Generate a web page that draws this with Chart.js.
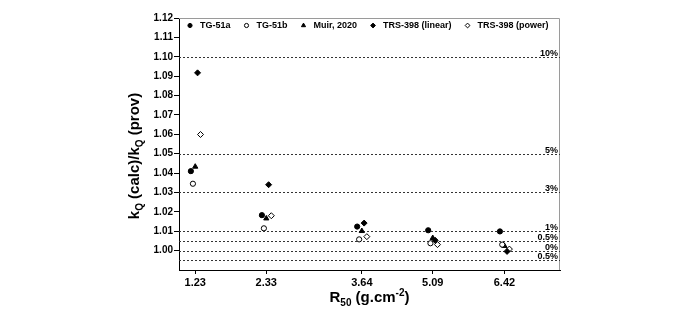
<!DOCTYPE html>
<html>
<head>
<meta charset="utf-8">
<script src="https://cdn.jsdelivr.net/npm/chart.js@4.4.0/dist/chart.umd.min.js"></script>
<style>
  html, body { margin: 0; padding: 0; background: #fff; }
</style>
</head>
<body>
<canvas id="grafico" width="700" height="317"></canvas>
<script>
// valores de R50 (rótulos do eixo x)
const r50 = [1.23, 2.33, 3.64, 5.09, 6.42];

// posições x (cada série deslocada um pouco do seu R50)
const tg51aX = [1.160, 2.262, 3.576, 4.997, 6.336];
const tg51bX = [1.193, 2.293, 3.603, 5.043, 6.379];
const muirX = [1.230, 2.330, 3.640, 5.090, 6.420];
const trsLinX = [1.266, 2.362, 3.687, 5.135, 6.467];
const trsPowX = [1.312, 2.399, 3.742, 5.178, 6.510];

// razão kQ(calc)/kQ(prov)
const tg51a = [1.0410, 1.0183, 1.0124, 1.0105, 1.0099];
const tg51b = [1.0345, 1.0115, 1.0058, 1.0038, 1.0031];
const muir = [1.0433, 1.0166, 1.0101, 1.0065, 1.0024];
const trsLin = [1.0917, 1.0340, 1.0142, 1.0053, 0.9996];
const trsPow = [1.0599, 1.0180, 1.0072, 1.0031, 1.0008];

// linhas de referência e seus rótulos
const refValores = [1.10, 1.05, 1.03, 1.01, 1.005, 1.00, 0.995];
const refRotulos = ["10%", "5%", "3%", "1%", "0.5%", "0%", "0.5%"];

const yTicks = [1.00, 1.01, 1.02, 1.03, 1.04, 1.05, 1.06, 1.07, 1.08, 1.09, 1.10, 1.11, 1.12];

const FONTE = "'Liberation Sans', Arial, sans-serif";

// escala linear por trechos: o eixo original não é proporcional ao R50
class KnotScale extends Chart.LinearScale {
    static id = "knot";
    static defaults = Chart.LinearScale.defaults;

    _frac(v) {
        const k = this.options.knots;
        let i = 1;
        while (i < k.length - 1 && v > k[i][0]) i++;
        const a = k[i - 1], b = k[i];
        return a[1] + (v - a[0]) * (b[1] - a[1]) / (b[0] - a[0]);
    }
    getPixelForValue(v) {
        if (v === null || v === undefined) return NaN;
        return this.getPixelForDecimal(this._frac(v));
    }
    getValueForPixel(p) {
        const f = this.getDecimalForPixel(p);
        const k = this.options.knots;
        let i = 1;
        while (i < k.length - 1 && f > k[i][1]) i++;
        const a = k[i - 1], b = k[i];
        return a[0] + (f - a[1]) * (b[0] - a[0]) / (b[1] - a[1]);
    }
}
Chart.register(KnotScale);

function pontos(xs, ys) {
    return xs.map((x, i) => ({ x: x, y: ys[i] }));
}

function serie(label, xs, ys, estilo, cheio, raio) {
    return {
        label: label,
        data: pontos(xs, ys),
        pointStyle: estilo,
        pointRadius: raio,
        pointHoverRadius: raio,
        backgroundColor: cheio ? "#000" : "#fff",
        borderColor: "#000",
        borderWidth: 1,
        showLine: false
    };
}

// texto com subscrito/sobrescrito
function larguraRica(ctx, partes, tam, tamPeq) {
    let w = 0;
    partes.forEach(p => {
        ctx.font = `bold ${p.sub || p.sup ? tamPeq : tam}px ${FONTE}`;
        w += ctx.measureText(p.t).width;
    });
    return w;
}
function desenharRico(ctx, partes, x, y, tam, tamPeq) {
    let cx = x;
    partes.forEach(p => {
        ctx.font = `bold ${p.sub || p.sup ? tamPeq : tam}px ${FONTE}`;
        let dy = 0;
        if (p.sub) dy = tam * 0.28;
        if (p.sup) dy = -tam * 0.38;
        ctx.fillText(p.t, cx, y + dy);
        cx += ctx.measureText(p.t).width;
    });
}

const tituloY = [
    { t: "k" }, { t: "Q", sub: true }, { t: " (calc)/k" }, { t: "Q", sub: true }, { t: " (prov)" }
];
const tituloX = [
    { t: "R" }, { t: "50", sub: true }, { t: " (g.cm" }, { t: "-2", sup: true }, { t: ")" }
];

const pluginExtras = {
    id: "extras",
    beforeDatasetsDraw(chart) {
        const { ctx, chartArea } = chart;
        const y = chart.scales.y;
        ctx.save();
        // moldura superior e direita
        ctx.strokeStyle = "#9a9a9a";
        ctx.lineWidth = 1;
        ctx.setLineDash([]);
        ctx.beginPath();
        ctx.moveTo(chartArea.left, chartArea.top + 0.5);
        ctx.lineTo(chartArea.right - 0.5, chartArea.top + 0.5);
        ctx.lineTo(chartArea.right - 0.5, chartArea.bottom);
        ctx.stroke();
        // linhas pontilhadas
        ctx.strokeStyle = "#333";
        ctx.setLineDash([2, 2]);
        refValores.forEach((v, i) => {
            const py = Math.round(y.getPixelForValue(v)) + 0.5;
            ctx.beginPath();
            ctx.moveTo(chartArea.left, py);
            ctx.lineTo(chartArea.right, py);
            ctx.stroke();
            ctx.font = `bold 9px ${FONTE}`;
            ctx.fillStyle = "#000";
            ctx.textAlign = "right";
            ctx.textBaseline = "alphabetic";
            ctx.fillText(refRotulos[i], chartArea.right - 2, py - 2);
        });
        ctx.restore();
    },
    afterDraw(chart) {
        const { ctx, chartArea } = chart;
        ctx.save();
        ctx.fillStyle = "#000";
        ctx.strokeStyle = "#000";
        ctx.textBaseline = "middle";
        ctx.textAlign = "left";
        // legenda dentro da área do gráfico, em uma linha
        ctx.font = `bold 9px ${FONTE}`;
        let lx = chartArea.left + 11;
        const ly = chartArea.top + 7.5;
        chart.data.datasets.forEach(ds => {
            ctx.fillStyle = ds.backgroundColor;
            Chart.helpers.drawPoint(ctx, {
                pointStyle: ds.pointStyle,
                radius: ds.pointRadius * 0.8,
                rotation: 0,
                borderWidth: 1
            }, lx, ly);
            ctx.fillStyle = "#000";
            ctx.fillText(ds.label, lx + 10, ly);
            lx += 10 + ctx.measureText(ds.label).width + 16;
        });
        ctx.restore();

        ctx.save();
        ctx.fillStyle = "#000";
        ctx.textBaseline = "alphabetic";
        ctx.textAlign = "left";
        // título do eixo y
        const wy = larguraRica(ctx, tituloY, 15, 10);
        ctx.translate(chartArea.left - 40, (chartArea.top + chartArea.bottom) / 2 + 12);
        ctx.rotate(-Math.PI / 2);
        desenharRico(ctx, tituloY, -wy / 2, 0, 15, 10);
        ctx.restore();
        ctx.save();
        ctx.fillStyle = "#000";
        ctx.textBaseline = "alphabetic";
        ctx.textAlign = "left";
        // título do eixo x
        const wx = larguraRica(ctx, tituloX, 15, 10);
        desenharRico(ctx, tituloX, (chartArea.left + chartArea.right) / 2 - wx / 2, chartArea.bottom + 32, 15, 10);
        ctx.restore();
    }
};

document.addEventListener("DOMContentLoaded", function() {
    const ctx = document.getElementById("grafico").getContext("2d");
    new Chart(ctx, {
        type: "scatter",
        data: {
            datasets: [
                serie("TG-51a", tg51aX, tg51a, "circle", true, 2.6),
                serie("TG-51b", tg51bX, tg51b, "circle", false, 2.6),
                serie("Muir, 2020", muirX, muir, "triangle", true, 3),
                serie("TRS-398 (linear)", trsLinX, trsLin, "rectRot", true, 3),
                serie("TRS-398 (power)", trsPowX, trsPow, "rectRot", false, 3)
            ]
        },
        options: {
            responsive: false,
            animation: false,
            layout: { padding: { top: 18, right: 140, left: 119, bottom: 0 } },
            plugins: {
                legend: { display: false },
                tooltip: { enabled: false }
            },
            scales: {
                x: {
                    type: "knot",
                    min: 0.97,
                    max: 7.43,
                    knots: [[0.97, 0], [1.23, 0.0426], [2.33, 0.2291], [3.64, 0.4799], [5.09, 0.6660], [6.42, 0.8542], [7.43, 1]],
                    afterBuildTicks: scale => { scale.ticks = r50.map(v => ({ value: v })); },
                    afterFit: scale => { scale.height = 47; },
                    border: { display: true, color: "#000", width: 1 },
                    grid: { drawOnChartArea: false, drawTicks: true, tickLength: 4, tickColor: "#000" },
                    ticks: {
                        color: "#000",
                        padding: 2,
                        maxRotation: 0,
                        autoSkip: false,
                        font: { family: FONTE, size: 11, weight: "bold" },
                        callback: v => v.toFixed(2)
                    }
                },
                y: {
                    min: 0.99,
                    max: 1.12,
                    afterBuildTicks: scale => { scale.ticks = yTicks.map(v => ({ value: v })); },
                    afterFit: scale => { scale.width = 60; },
                    border: { display: true, color: "#000", width: 1 },
                    grid: { drawOnChartArea: false, drawTicks: true, tickLength: 5, tickColor: "#000" },
                    ticks: {
                        color: "#000",
                        padding: 1,
                        autoSkip: false,
                        font: { family: FONTE, size: 10, weight: "bold" },
                        callback: v => v.toFixed(2)
                    }
                }
            }
        },
        plugins: [pluginExtras]
    });
});
</script>
</body>
</html>
